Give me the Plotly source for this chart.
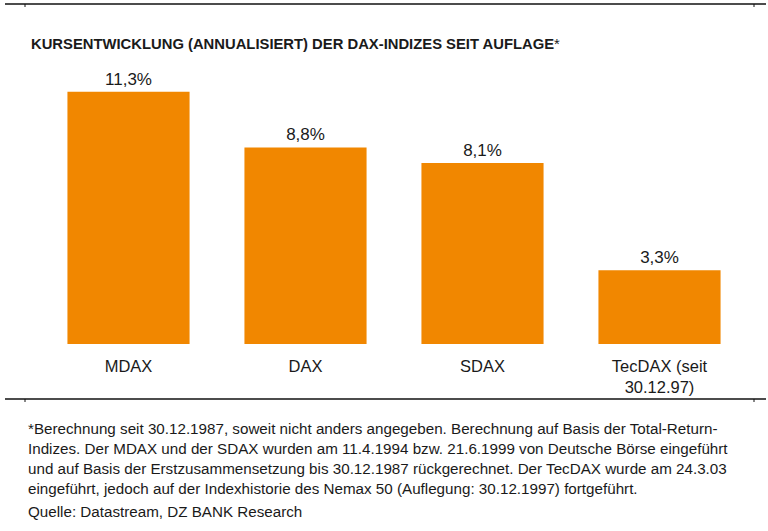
import plotly.graph_objects as go

categories = ["MDAX", "DAX", "SDAX", "TecDAX (seit<br>30.12.97)"]
values = [11.3, 8.8, 8.1, 3.3]
value_labels = ["11,3%", "8,8%", "8,1%", "3,3%"]

title = "<b>KURSENTWICKLUNG (ANNUALISIERT) DER DAX-INDIZES SEIT AUFLAGE</b>*"
footnote_lines = [
    "*Berechnung seit 30.12.1987, soweit nicht anders angegeben. Berechnung auf Basis der Total-Return-",
    "Indizes. Der MDAX und der SDAX wurden am 11.4.1994 bzw. 21.6.1999 von Deutsche Börse eingeführt",
    "und auf Basis der Erstzusammensetzung bis 30.12.1987 rückgerechnet. Der TecDAX wurde am 24.3.03",
    "eingeführt, jedoch auf der Indexhistorie des Nemax 50 (Auflegung: 30.12.1997) fortgeführt.",
    "Quelle: Datastream, DZ BANK Research",
]
footnote_y = [428, 448, 468, 488, 511]

FONT = "Arial, Liberation Sans, sans-serif"
TXT = "#1a1a1a"
W, H = 768, 531

fig = go.Figure(go.Bar(
    x=categories, y=values, text=value_labels, textposition="outside",
    textfont=dict(family=FONT, size=17, color=TXT),
    marker=dict(color="#F18700", line=dict(width=0)),
    cliponaxis=False, hoverinfo="skip",
))

ml, mr, mt, mb = 40, 20, 76, 187
fig.update_layout(
    width=W, height=H, margin=dict(l=ml, r=mr, t=mt, b=mb),
    paper_bgcolor="white", plot_bgcolor="white", showlegend=False,
    bargap=0.31,
    font=dict(family=FONT, color=TXT),
    xaxis=dict(showgrid=False, showline=False, ticks="", zeroline=False,
               ticklabelstandoff=10,
               tickfont=dict(family=FONT, size=16.5, color=TXT)),
    yaxis=dict(visible=False, range=[0, 12]),
)

def px(x):
    return (x - ml) / (W - ml - mr)

def py(y):
    return (H - mb - y) / (H - mt - mb)

fig.add_annotation(xref="paper", yref="paper", x=px(29), y=py(44), xanchor="left", yanchor="middle",
                   text=title, showarrow=False, font=dict(family=FONT, size=14.8, color=TXT))
for line, yl in zip(footnote_lines, footnote_y):
    fig.add_annotation(xref="paper", yref="paper", x=px(26), y=py(yl), xanchor="left", yanchor="middle",
                       text=line, showarrow=False, align="left",
                       font=dict(family=FONT, size=15.2, color=TXT))

for yl in (4, 399):
    fig.add_shape(type="line", xref="paper", yref="paper", x0=px(5), x1=px(766), y0=py(yl), y1=py(yl),
                  line=dict(color="#111111", width=1.5))
    for xt in (25, 754):
        fig.add_shape(type="line", xref="paper", yref="paper", x0=px(xt), x1=px(xt), y0=py(yl), y1=py(yl + 3),
                      line=dict(color="#111111", width=1))

fig.write_html("out.html", config={"displayModeBar": False},
               post_script="document.body.style.margin='0';")
